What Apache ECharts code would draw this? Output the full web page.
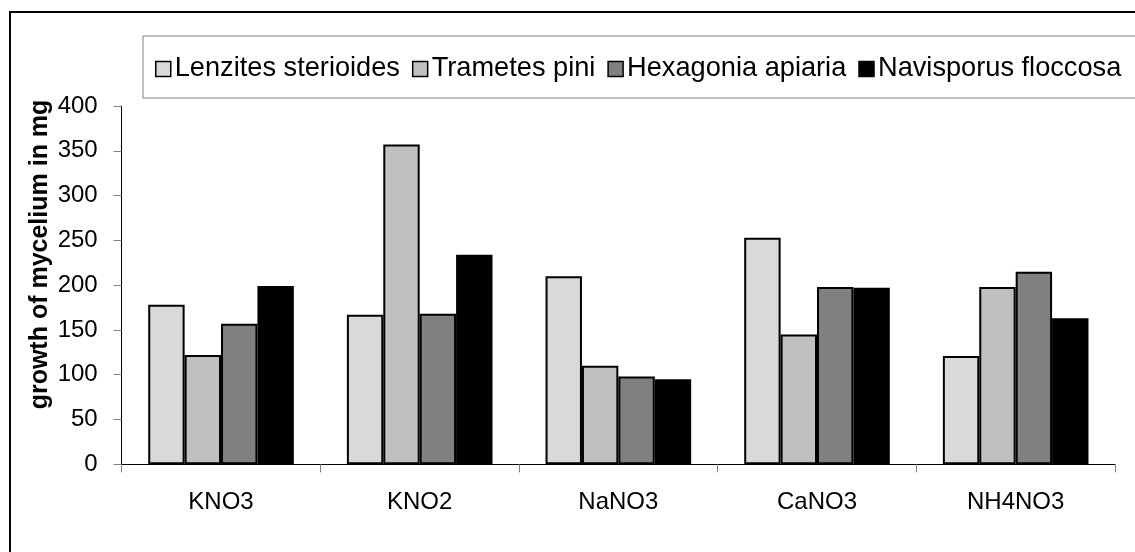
<!DOCTYPE html>
<html>
<head>
<meta charset="utf-8">
<script src="https://cdn.jsdelivr.net/npm/echarts@6/dist/echarts.min.js"></script>
<style>
html,body{margin:0;padding:0;background:#fff;}
#chart{width:1135px;height:552px;}
</style>
</head>
<body>
<div id="chart"></div>
<script>
const categories = ['KNO3', 'KNO2', 'NaNO3', 'CaNO3', 'NH4NO3'];
const seriesNames = ['Lenzites sterioides', 'Trametes pini', 'Hexagonia apiaria', 'Navisporus floccosa'];
const lenzites = [178, 167, 210, 253, 121];
const trametes = [122, 357, 110, 145, 198];
const hexagonia = [157, 168, 98, 198, 215];
const navisporus = [199, 234, 95, 197, 163];
const yTicks = { min: 0, max: 400, interval: 50 };
const yTitle = 'growth of mycelium in mg';
const colors = ['#d9d9d9', '#c0c0c0', '#808080', '#000000'];

const FONT = '"Liberation Sans", Arial, sans-serif';
const values = [lenzites, trametes, hexagonia, navisporus];

const chart = echarts.init(document.getElementById('chart'), null, { renderer: 'canvas' });
chart.setOption({
  animation: false,
  backgroundColor: '#fff',
  textStyle: { fontFamily: FONT },
  grid: { left: 121.7, right: 1135 - 1115, top: 106, bottom: 552 - 464.3, containLabel: false },
  legend: {
    left: 155, top: 54, width: 1500, padding: 0, itemGap: 12, itemWidth: 15, itemHeight: 15,
    icon: 'rect',
    itemStyle: { borderColor: '#000', borderWidth: 1.5 },
    textStyle: { fontFamily: FONT, fontSize: 27.2, color: '#000', lineHeight: 30, padding: [0, 0, 0, -1] },
    data: seriesNames
  },
  xAxis: {
    type: 'category', data: categories,
    axisLine: { lineStyle: { color: '#000', width: 1 } },
    axisTick: { show: true, alignWithLabel: false, length: 8, lineStyle: { color: '#808080' } },
    axisLabel: { fontFamily: FONT, fontSize: 24, color: '#000', margin: 26 },
    splitLine: { show: false }
  },
  yAxis: {
    type: 'value', min: yTicks.min, max: yTicks.max, interval: yTicks.interval,
    axisLine: { show: true, lineStyle: { color: '#000', width: 1 } },
    axisTick: { show: true, length: 8, lineStyle: { color: '#808080' } },
    axisLabel: { fontFamily: FONT, fontSize: 24, color: '#000', margin: 24 },
    splitLine: { show: false }
  },
  graphic: [
    { type: 'rect', shape: { x: 10, y: 12, width: 1300, height: 700 }, style: { fill: 'none', stroke: '#000', lineWidth: 2 }, silent: true, z: -10 },
    { type: 'rect', shape: { x: 143, y: 36, width: 1200, height: 62 }, style: { fill: 'none', stroke: '#808080', lineWidth: 1 }, silent: true, z: -10 },
    { type: 'text', x: 40, y: 254.5, rotation: Math.PI / 2,
      style: { text: yTitle, fontFamily: FONT, fontSize: 25, fontWeight: 'bold', fill: '#000', align: 'center', verticalAlign: 'middle' } }
  ],
  series: seriesNames.map((name, i) => ({
    name: name, type: 'bar', data: values[i],
    barGap: '0%', barCategoryGap: '26.7%',
    itemStyle: { color: colors[i], borderColor: '#000', borderWidth: 2 }
  }))
});
</script>
</body>
</html>
